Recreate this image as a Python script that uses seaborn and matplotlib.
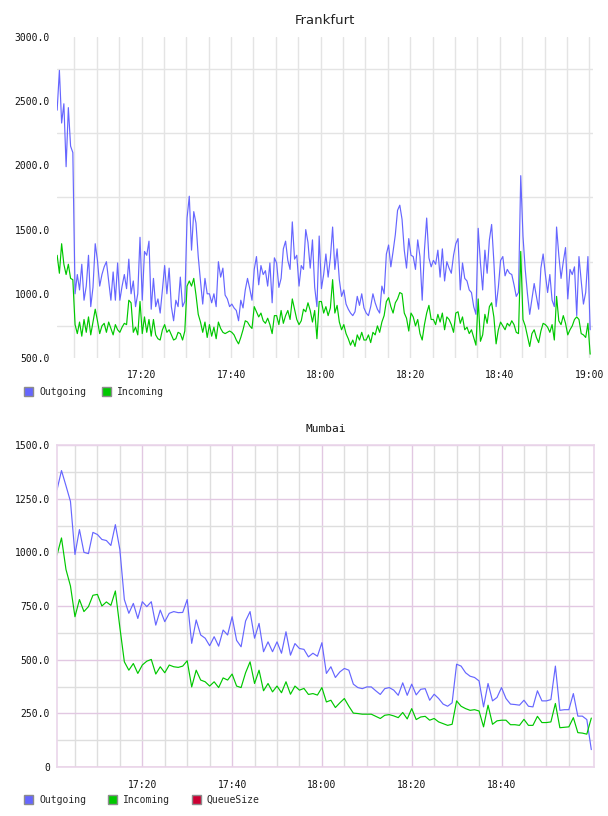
import matplotlib
matplotlib.use("Agg")
import matplotlib.pyplot as plt
import matplotlib.dates as mdates
from matplotlib.patches import Patch
from matplotlib.ticker import FixedLocator, FuncFormatter
import pandas as pd
import seaborn as sns

# Frankfurt: 30 s samples starting 17:01:10
fra_outgoing = [
    2430, 2740, 2330, 2480, 1990, 2450, 2150, 2100,
    1000, 1150, 1030, 1230, 950, 1060, 1300, 900, 1050, 1390,
    1260, 1060, 1150, 1210, 1250, 1100, 950, 1170, 950, 1240,
    950, 1060, 1150, 1040, 1270, 1000, 1100, 900, 1000, 1440,
    950, 1330, 1300, 1410, 880, 1120, 900, 960, 850, 1030,
    1220, 1000, 1200, 900, 790, 950, 900, 1130, 900, 940,
    1590, 1760, 1340, 1640, 1550, 1290, 1100, 920, 1120, 1000,
    1000, 930, 1000, 900, 1250, 1130, 1200, 990, 960, 900,
    920, 890, 870, 790, 950, 890, 1030, 1120, 1040, 950,
    1190, 1290, 1070, 1220, 1150, 1180, 1060, 1240, 930, 1280,
    1240, 1050, 1120, 1350, 1410, 1260, 1190, 1560, 1270, 1300,
    1060, 1220, 1190, 1500, 1400, 1200, 1420, 1050, 900, 1450,
    1040, 1150, 1310, 1130, 1280, 1520, 1190, 1350, 1110, 980,
    1030, 920, 880, 850, 830, 860, 980, 910, 1000, 890,
    850, 830, 900, 1000, 930, 880, 850, 1060, 1000, 1310,
    1380, 1210, 1330, 1460, 1650, 1690, 1580, 1340, 1200, 1430,
    1300, 1290, 1190, 1420, 1290, 950, 1340, 1590, 1280, 1210,
    1260, 1230, 1340, 1130, 1350, 1100, 1250, 1200, 1160, 1300,
    1390, 1430, 1030, 1240, 1120, 1100, 1030, 1010, 900, 840,
    1510, 1240, 1030, 1340, 1160, 1420, 1540, 1250, 900, 1050,
    1260, 1290, 1140, 1190, 1160, 1150, 1070, 980, 1010, 1920,
    1450, 1190, 1000, 840, 960, 1080, 980, 880, 1200, 1310,
    1150, 1010, 1150, 950, 900, 1520, 1300, 1120, 1250, 1360,
    960, 1190, 1150, 1210, 830, 1290, 1100, 920, 1010, 1290,
    720,
]
fra_incoming = [
    1300, 1160, 1390, 1230, 1150, 1230, 1120, 1110,
    760, 690, 780, 670, 800, 700, 820, 680, 780, 880,
    790, 690, 750, 770, 700, 780, 730, 680, 760, 720,
    700, 740, 770, 760, 950, 930, 700, 740, 680, 940,
    690, 820, 700, 800, 670, 800, 680, 650, 640, 720,
    760, 700, 720, 680, 640, 650, 700, 690, 640, 710,
    1060, 1100, 1060, 1120, 990, 840, 780, 700, 780, 660,
    760, 670, 740, 650, 780, 730, 700, 690, 700, 710,
    700, 680, 640, 610, 660, 720, 790, 780, 750, 730,
    900, 860, 820, 850, 790, 770, 810, 760, 690, 830,
    830, 760, 870, 770, 830, 870, 800, 960, 880, 800,
    760, 790, 880, 860, 930, 870, 780, 870, 650, 940,
    940, 850, 900, 830, 890, 1110, 850, 910, 780, 720,
    760, 690, 650, 600, 640, 590, 680, 640, 700, 640,
    640, 680, 620, 700, 680, 750, 700, 780, 830, 940,
    970, 900, 850, 930, 960, 1010, 1000, 850, 810, 710,
    850, 820, 750, 800, 690, 640, 760, 850, 910, 800,
    800, 760, 840, 780, 850, 720, 820, 800, 760, 700,
    850, 860, 770, 820, 720, 740, 690, 720, 660, 600,
    960, 630, 680, 840, 770, 900, 930, 820, 610, 720,
    780, 750, 720, 770, 750, 790, 760, 700, 690, 1330,
    800, 750, 670, 590, 690, 720, 660, 620, 710, 770,
    760, 740, 700, 760, 640, 980, 790, 760, 830, 770,
    680, 720, 750, 800, 820, 800, 690, 680, 660, 770,
    530,
]

# Mumbai: 1 min samples starting 17:01
mum_outgoing = [
    1291, 1381, 1310, 1237, 990, 1106, 1000, 994, 1093, 1083,
    1060, 1055, 1032, 1129, 1013, 780, 716, 762, 692, 770,
    747, 770, 661, 731, 677, 716, 724, 719, 720, 780,
    576, 685, 615, 600, 565, 607, 563, 638, 615, 700,
    590, 560, 680, 724, 600, 669, 537, 583, 537, 583,
    530, 630, 521, 575, 552, 548, 513, 530, 516, 579,
    436, 467, 417, 443, 459, 451, 386, 370, 365, 373,
    373, 355, 338, 365, 370, 358, 334, 392, 334, 386,
    336, 362, 365, 311, 339, 319, 293, 283, 299, 479,
    470, 439, 423, 417, 401, 280, 389, 308, 324, 370,
    319, 293, 291, 288, 311, 283, 280, 355, 308, 308,
    314, 470, 264, 267, 267, 342, 237, 237, 221, 81,
]
mum_incoming = [
    987, 1067, 920, 843, 700, 780, 724, 747, 800, 804,
    750, 769, 753, 820, 650, 490, 451, 482, 436, 475,
    493, 501, 433, 467, 439, 475, 467, 464, 470, 495,
    373, 451, 405, 397, 377, 397, 370, 415, 405, 433,
    377, 370, 439, 490, 389, 451, 355, 389, 350, 377,
    346, 397, 339, 377, 358, 366, 338, 342, 335, 370,
    303, 311, 277, 299, 319, 283, 251, 249, 246, 246,
    246, 236, 226, 241, 244, 238, 230, 254, 224, 272,
    221, 233, 236, 218, 226, 210, 202, 194, 199, 308,
    283, 272, 264, 267, 261, 187, 288, 199, 215, 218,
    218, 197, 197, 194, 222, 194, 194, 236, 207, 207,
    210, 296, 183, 185, 187, 230, 160, 158, 153, 228,
]
mum_queue = [0] * len(mum_outgoing)

colors = {"Outgoing": "#6666ff", "Incoming": "#00c800", "QueueSize": "#cc0033"}

fra_time = pd.date_range("2024-01-01 17:01:10", periods=len(fra_outgoing), freq="30s")
mum_time = pd.date_range("2024-01-01 17:01:00", periods=len(mum_outgoing), freq="1min")

fra = pd.concat([
    pd.DataFrame({"time": fra_time, "value": fra_outgoing, "series": "Outgoing"}),
    pd.DataFrame({"time": fra_time, "value": fra_incoming, "series": "Incoming"}),
])
mum = pd.concat([
    pd.DataFrame({"time": mum_time, "value": mum_outgoing, "series": "Outgoing"}),
    pd.DataFrame({"time": mum_time, "value": mum_incoming, "series": "Incoming"}),
    pd.DataFrame({"time": mum_time, "value": mum_queue, "series": "QueueSize"}),
])

sns.set_style("white")
plt.rcParams["font.family"] = ["DejaVu Sans Mono"]

fig = plt.figure(figsize=(6.08, 8.16), dpi=100)
ax1 = fig.add_axes([57 / 608, 1 - 358 / 816, 536 / 608, 321 / 816])
ax2 = fig.add_axes([57 / 608, 1 - 767 / 816, 537 / 608, 322 / 816])

T = lambda s: pd.Timestamp("2024-01-01 " + s)


def fmt_y(v, pos):
    return "0" if v == 0 else f"{v:.1f}"


def legend(ax, names, y, colspace):
    handles = [Patch(facecolor=colors[n], edgecolor="#8c8c8c", linewidth=1) for n in names]
    ax.legend(handles, names, loc="center left", bbox_to_anchor=(24 / 608, 1 - y / 816),
              bbox_transform=fig.transFigure, ncol=len(names), frameon=False,
              fontsize=7, handlelength=0.95, handleheight=0.95, handletextpad=0.6,
              columnspacing=colspace, borderpad=0, borderaxespad=0)


# --- Frankfurt ---
for name in ["Outgoing", "Incoming"]:
    sns.lineplot(data=fra[fra["series"] == name], x="time", y="value", color=colors[name],
                 linewidth=0.85, ax=ax1)
ax1.set_xlim(T("17:01:08"), T("19:00:48"))
ax1.set_ylim(500, 3000)
ax1.set_yticks([500, 1000, 1500, 2000, 2500, 3000])
ax1.yaxis.set_minor_locator(FixedLocator([750, 1250, 1750, 2250, 2750]))
ax1.set_xticks([T(s) for s in ["17:20", "17:40", "18:00", "18:20", "18:40", "19:00"]])
ax1.set_xticks(pd.date_range(T("17:05"), T("19:00"), freq="5min"), minor=True)
ax1.grid(which="minor", axis="y", color="#e4e4e4", linewidth=1)
ax1.grid(which="both", axis="x", color="#e4e4e4", linewidth=1)
for sp in ax1.spines.values():
    sp.set_visible(False)
ax1.set_title("Frankfurt", fontsize=9.5, family="DejaVu Sans", color="#222222", pad=9)
legend(ax1, ["Outgoing", "Incoming"], 392, 1.65)

# --- Mumbai ---
for name in ["Outgoing", "Incoming", "QueueSize"]:
    sns.lineplot(data=mum[mum["series"] == name], x="time", y="value", color=colors[name],
                 linewidth=0.85, ax=ax2)
ax2.set_xlim(T("17:01:00"), T("19:00:36"))
ax2.set_ylim(0, 1500)
ax2.set_yticks([0, 250, 500, 750, 1000, 1250, 1500])
ax2.yaxis.set_minor_locator(FixedLocator([125, 375, 625, 875, 1125, 1375]))
ax2.set_xticks([T(s) for s in ["17:20", "17:40", "18:00", "18:20", "18:40"]])
ax2.set_xticks([t for t in pd.date_range(T("17:05"), T("18:55"), freq="5min")
                if t.minute % 20 != 0], minor=True)
ax2.grid(which="minor", axis="both", color="#dedede", linewidth=1)
ax2.grid(which="major", axis="both", color="#e2c8e2", linewidth=1)
for sp in ax2.spines.values():
    sp.set_color("#ead6ea")
    sp.set_linewidth(1.2)
ax2.set_title("Mumbai", fontsize=8, color="#111111", pad=9)
legend(ax2, ["Outgoing", "Incoming", "QueueSize"], 800, 2.25)

for ax in (ax1, ax2):
    ax.set_xlabel("")
    ax.set_ylabel("")
    ax.set_axisbelow(True)
    ax.xaxis.set_major_formatter(mdates.DateFormatter("%H:%M"))
    ax.yaxis.set_major_formatter(FuncFormatter(fmt_y))
    ax.tick_params(which="both", length=0, labelsize=7, colors="#111111")
    ax.tick_params(axis="x", pad=9)
    ax.tick_params(axis="y", pad=5)

fig.savefig("out.png", dpi=100)
